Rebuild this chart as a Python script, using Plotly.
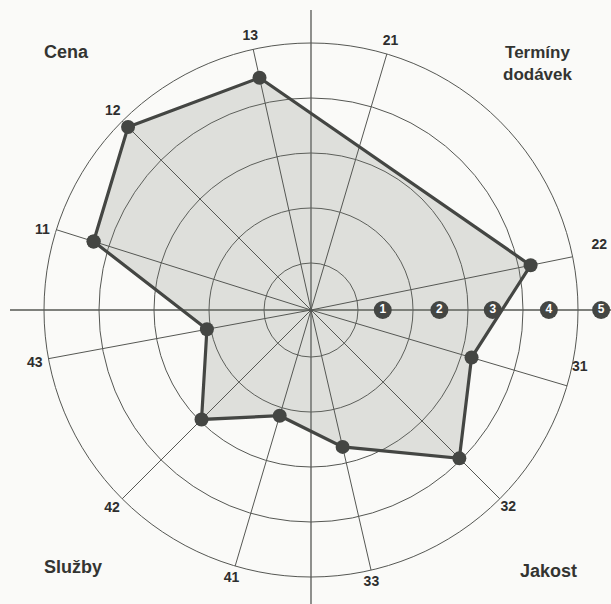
import plotly.graph_objects as go

# ---- data ----
criteria = ["11", "12", "13", "21", "22", "31", "32", "33", "41", "42", "43"]
angles = [287.5, 315.0, 347.5, 16.5, 78.5, 106.5, 135.0, 167.0, 196.5, 225.0, 259.5]
scores = [4.29, 4.85, 4.47, None, 4.22, 3.19, 3.96, 2.70, 2.15, 2.96, 2.07]
scale_labels = ["1", "2", "3", "4", "5"]
scale_label_pos = [1.45, 2.48, 3.45, 4.47, 5.42]
rings = [1, 2, 3, 4, 5]
groups = ["Cena", "Termíny<br>dodávek", "Jakost", "Služby"]

# ---- geometry / style ----
W, H = 611, 604
CX, CY = 311, 310          # centre of the diagram in pixels (from top-left)
R_PX = 293                 # radius of the polar area
PX_PER_UNIT = 55.0
R_MIN = 0.1455
R_MAX = R_MIN + R_PX / PX_PER_UNIT

BG = "#fafaf8"
INK = "#444643"
GRID = "#555753"
FONT = "Liberation Sans, Arial, sans-serif"

# polygon uses only the criteria that have a score
poly_th = [a for a, s in zip(angles, scores) if s is not None]
poly_r = [s for s in scores if s is not None]
poly_th_c = poly_th + poly_th[:1]
poly_r_c = poly_r + poly_r[:1]

fig = go.Figure()

# filled area
fig.add_trace(go.Scatterpolar(
    r=poly_r_c, theta=poly_th_c, mode="lines", fill="toself",
    fillcolor="rgba(125,127,120,0.22)", line=dict(width=0, color="rgba(0,0,0,0)"),
    hoverinfo="skip", showlegend=False))

# spokes
sp_r, sp_t = [], []
for a in angles:
    sp_r += [R_MIN, rings[-1], None]
    sp_t += [a, a, None]
fig.add_trace(go.Scatterpolar(
    r=sp_r, theta=sp_t, mode="lines", line=dict(color=GRID, width=1),
    hoverinfo="skip", showlegend=False))

# outline with markers
fig.add_trace(go.Scatterpolar(
    r=poly_r_c, theta=poly_th_c, mode="lines+markers",
    line=dict(color=INK, width=3.2),
    marker=dict(size=14, color=INK),
    showlegend=False))

# criterion labels
lab_r = [5.24, 5.24, 5.24, 5.24, 5.38, 5.14, 5.22, 5.22, 5.24, 5.26, 5.26]
lab_off = [-1.0, 0.0, 0.0, 0.0, -1.5, -4.5, 0.0, 0.5, 0.0, 0.0, -0.5]
lab_pos = ["middle center"] * len(criteria)
lab_pos[criteria.index("22")] = "middle right"
fig.add_trace(go.Scatterpolar(
    r=lab_r, theta=[a + o for a, o in zip(angles, lab_off)],
    mode="text", text=["<b>%s</b>" % c for c in criteria],
    textposition=lab_pos,
    textfont=dict(family=FONT, size=14, color="#2e2e2e"),
    cliponaxis=False, hoverinfo="skip", showlegend=False))

# circled scale numbers on the horizontal axis
fig.add_trace(go.Scatterpolar(
    r=scale_label_pos, theta=[90] * len(scale_label_pos),
    mode="markers+text", text=["<b>%s</b>" % s for s in scale_labels],
    textposition="middle center",
    marker=dict(size=18, color=INK),
    textfont=dict(family=FONT, size=12, color="white"),
    cliponaxis=False, hoverinfo="skip", showlegend=False))

x0 = (CX - R_PX) / W
x1 = (CX + R_PX) / W
y0 = (H - CY - R_PX) / H
y1 = (H - CY + R_PX) / H

def corner(text, x, y, size):
    return dict(text="<b>%s</b>" % text, x=x / W, y=1 - y / H, xref="paper", yref="paper",
                xanchor="center", yanchor="middle", showarrow=False,
                font=dict(family=FONT, size=size, color="#333431"))

fig.update_layout(
    width=W, height=H,
    margin=dict(l=0, r=0, t=0, b=0),
    paper_bgcolor=BG, plot_bgcolor=BG,
    polar=dict(
        domain=dict(x=[x0, x1], y=[y0, y1]),
        bgcolor="rgba(0,0,0,0)",
        radialaxis=dict(range=[R_MIN, R_MAX], tickvals=rings, showticklabels=False,
                        ticks="", showline=False, gridcolor=GRID, gridwidth=1),
        angularaxis=dict(rotation=90, direction="clockwise", showgrid=False,
                         showline=False, ticks="", showticklabels=False),
    ),
    shapes=[
        dict(type="line", xref="paper", yref="paper", layer="below",
             x0=10 / W, x1=1.0, y0=(H - CY) / H, y1=(H - CY) / H,
             line=dict(color=GRID, width=1.3)),
        dict(type="line", xref="paper", yref="paper", layer="below",
             x0=CX / W, x1=CX / W, y0=0.0, y1=(H - 10) / H,
             line=dict(color=GRID, width=1.3)),
    ],
    annotations=[
        corner(groups[0], 66, 52, 18),
        corner(groups[1], 538, 64, 17),
        corner(groups[2], 548, 571, 18),
        corner(groups[3], 73, 567, 18),
    ],
)

fig.write_html("out.html", config={"displayModeBar": False},
               post_script="document.body.style.margin='0';document.body.style.overflow='hidden';")
